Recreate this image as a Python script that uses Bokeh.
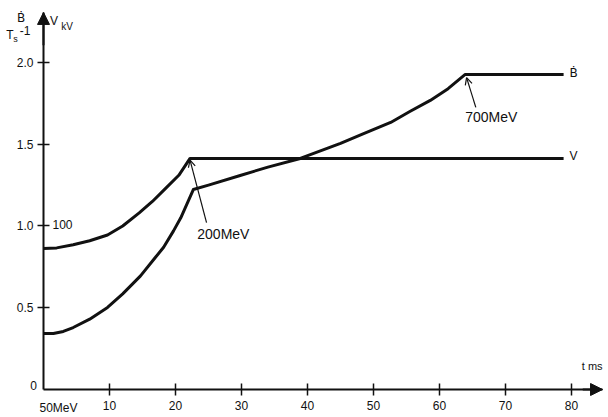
from bokeh.plotting import figure
from bokeh.models import (Range1d, LinearAxis, FixedTicker, Label, Arrow,
                          NormalHead, OpenHead, NumeralTickFormatter)
from bokeh.embed import file_html
from bokeh.resources import INLINE

# ---- data ----
# V curve (kV scale), time in ms
t_V = [0, 2, 4.5, 7, 9.7, 12, 14.5, 16.5, 18.5, 20.5, 22.2, 78.8]
v_V = [0.862, 0.866, 0.885, 0.910, 0.945, 1.0, 1.08, 1.15, 1.23, 1.31, 1.413, 1.413]
# B-dot curve
t_B = [0, 1.5, 3, 4.5, 7, 9.7, 12, 14.7, 17, 18.2, 19.7, 20.8, 22.7, 25, 29.8, 34,
       38.9, 45, 48.5, 52.6, 55.5, 58.6, 61.3, 63.9, 78.8]
v_B = [0.342, 0.342, 0.355, 0.379, 0.43, 0.502, 0.585, 0.695, 0.81, 0.87, 0.97,
       1.05, 1.223, 1.25, 1.309, 1.36, 1.413, 1.505, 1.565, 1.633, 1.70, 1.768,
       1.84, 1.927, 1.927]

x_ticks = [10, 20, 30, 40, 50, 60, 70, 80]
y_ticks = [0.5, 1.0, 1.5, 2.0]
x_first_label = "50MeV"
y_zero_label = "0"
y_mid_label = "100"
ann_200 = "200MeV"
ann_700 = "700MeV"
V_PEAK = 10      # index in t_V where V reaches its plateau (200 MeV)
B_PEAK = 23      # index in t_B where B-dot reaches its plateau (700 MeV)

X_START, X_END = -6.515, 85.30
Y_START, Y_END = -0.159, 2.379
X_ARROW = 84.7   # end of the time axis arrow
Y_ARROW = 2.306  # end of the vertical axis arrow
INK = "#111111"
FONT = "Liberation Sans"
FONT_B = "DejaVu Sans"

p = figure(width=606, height=415, x_range=Range1d(X_START, X_END),
           y_range=Range1d(Y_START, Y_END),
           output_backend="svg", toolbar_location=None,
           x_axis_location=None, y_axis_location=None,
           min_border_left=0, min_border_right=0, min_border_top=0, min_border_bottom=0)
p.grid.visible = False
p.outline_line_color = None
p.background_fill_color = "white"
p.border_fill_color = "white"

xaxis = LinearAxis(ticker=FixedTicker(ticks=x_ticks), fixed_location=0, bounds=(0, X_ARROW),
                   major_tick_in=6, major_tick_out=6, minor_tick_in=0, minor_tick_out=0,
                   axis_line_width=2, axis_line_color=INK,
                   major_tick_line_width=1.5, major_tick_line_color=INK,
                   major_label_standoff=5, major_label_text_font_size="12px",
                   major_label_text_font=FONT, major_label_text_color=INK)
p.add_layout(xaxis, "below")

yaxis = LinearAxis(ticker=FixedTicker(ticks=y_ticks), formatter=NumeralTickFormatter(format="0.0"),
                   fixed_location=0, bounds=(0, Y_ARROW),
                   major_tick_in=6, major_tick_out=6, minor_tick_in=0, minor_tick_out=0,
                   axis_line_width=2, axis_line_color=INK,
                   major_tick_line_width=1.5, major_tick_line_color=INK,
                   major_label_standoff=4, major_label_text_font_size="12px",
                   major_label_text_font=FONT, major_label_text_color=INK)
p.add_layout(yaxis, "left")

# axis arrowheads
p.add_layout(Arrow(end=NormalHead(size=12, fill_color=INK, line_color=INK),
                   x_start=0, y_start=Y_ARROW - 0.2, x_end=0, y_end=Y_ARROW,
                   line_width=2, line_color=INK))
p.add_layout(Arrow(end=NormalHead(size=12, fill_color=INK, line_color=INK),
                   x_start=X_ARROW - 3, y_start=0, x_end=X_ARROW, y_end=0,
                   line_width=2, line_color=INK))

# curves
p.line(t_V, v_V, line_width=3, line_color=INK, line_join="round")
p.line(t_B, v_B, line_width=3, line_color=INK, line_join="round")

# annotation arrows
p.add_layout(Arrow(end=OpenHead(size=7, line_width=1.2, line_color=INK),
                   x_start=24.7, y_start=1.021, x_end=t_V[V_PEAK], y_end=v_V[V_PEAK] - 0.01,
                   line_width=1.2, line_color=INK))
p.add_layout(Arrow(end=OpenHead(size=7, line_width=1.2, line_color=INK),
                   x_start=65.5, y_start=1.725, x_end=t_B[B_PEAK] + 0.2, y_end=v_B[B_PEAK] - 0.02,
                   line_width=1.2, line_color=INK))


def lab(x, y, text, size="12px", align="left", font=FONT):
    p.add_layout(Label(x=x, y=y, text=text, text_font_size=size, text_align=align,
                       text_baseline="middle", text_font=font, text_color=INK))


lab(23.3, 0.954, ann_200, "14px")
lab(63.9, 1.664, ann_700, "14px")
lab(79.7, 1.431, "V", "12px")
lab(79.7, 1.935, "\u1E02", "12px", font=FONT_B)
lab(1.36, 1.009, y_mid_label, "12px")
lab(-1.52, 0.024, y_zero_label, "12px", "center")
lab(2.27, -0.112, x_first_label, "12px", "center")
lab(84.7, 0.141, "t ms", "11px", "right")
# top-left axis titles
lab(-3.41, 2.275, "\u1E02", "12px", "center", font=FONT_B)
lab(-5.08, 2.171, "T", "12px", "center")
lab(-4.24, 2.141, "s", "9px", "center")
lab(-2.80, 2.196, "-1", "12px", "center")
lab(1.59, 2.251, "V", "12px", "center")
lab(3.56, 2.220, "kV", "10px", "center")

open("out.html", "w").write(file_html(p, INLINE))
